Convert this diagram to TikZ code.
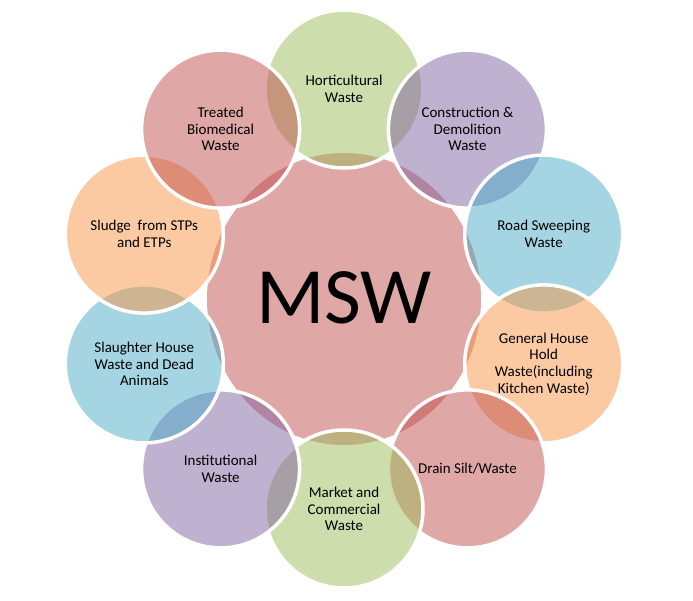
\documentclass[tikz,border=0pt]{standalone}
\usepackage{fontspec}
\setmainfont{Carlito}
\usetikzlibrary{shapes.geometric}
\definecolor{mswred}{HTML}{C0504D}
\definecolor{mswgreen}{HTML}{9BBB59}
\definecolor{mswpurple}{HTML}{8064A2}
\definecolor{mswaqua}{HTML}{4BACC6}
\definecolor{mswor}{HTML}{F79646}
\tikzset{
  hub/.style={ellipse,fill=mswred,fill opacity=0.5,text opacity=1,
              minimum width=274pt,minimum height=292pt,inner sep=0pt,
              font=\fontsize{80}{90}\selectfont},
  part/.style={circle,draw=white,line width=3.5pt,fill opacity=0.5,
               text opacity=1,minimum size=158pt,inner sep=0pt,align=center,
               font=\fontsize{15}{16.7}\selectfont},
}

\begin{document}
\begin{tikzpicture}
  \useasboundingbox (-344pt,-302pt) rectangle (349pt,299pt);
  \node[hub] (msw) at (0,0) {\raisebox{3pt}{MSW}};
  % outer ring, clockwise from the top
  \node[part,fill=mswgreen] (hort) at (90:210pt) {Horticultural\\Waste};
  \node[part,fill=mswpurple] (cnd) at (54:210pt) {Construction \&\\Demolition\\Waste};
  \node[part,fill=mswaqua] (road) at (18:210pt) {Road Sweeping\\Waste};
  \node[part,fill=mswor] (house) at (-18:210pt) {General House\\Hold\\Waste(including\\Kitchen Waste)};
  \node[part,fill=mswred] (drain) at (-54:210pt) {Drain Silt/Waste};
  \node[part,fill=mswgreen] (mkt) at (-90:210pt) {Market and\\Commercial\\Waste};
  \node[part,fill=mswpurple] (inst) at (-126:210pt) {Institutional\\Waste};
  \node[part,fill=mswaqua] (slau) at (-162:210pt) {Slaughter House\\Waste and Dead\\Animals};
  \node[part,fill=mswor] (sludge) at (162:210pt) {Sludge~ from STPs\\and ETPs};
  \node[part,fill=mswred] (bio) at (126:210pt) {Treated\\Biomedical\\Waste};
\end{tikzpicture}
\end{document}
